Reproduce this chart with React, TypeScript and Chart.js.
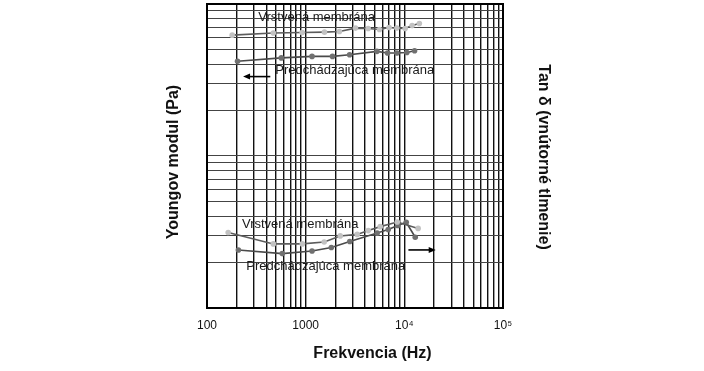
import React, { useEffect, useRef } from "react";
import { Chart, registerables } from "chart.js";

Chart.register(...registerables);

const FONT = "'Liberation Sans', Arial, Helvetica, sans-serif";

// Young's modulus (left axis, Pa)
const ymLayeredFreq = [180, 470, 920, 1550, 2200, 3200, 4300, 5600, 7000, 8400, 10200, 12000, 14200];
const ymLayeredVal = [6.24e7, 6.44e7, 6.49e7, 6.53e7, 6.59e7, 6.94e7, 6.9e7, 6.79e7, 7.0e7, 6.94e7, 6.9e7, 7.21e7, 7.44e7];
const ymPrevFreq = [204, 566, 1160, 1870, 2790, 5280, 6760, 8410, 10600, 12700];
const ymPrevVal = [4.2e7, 4.42e7, 4.52e7, 4.52e7, 4.64e7, 4.88e7, 4.76e7, 4.76e7, 4.8e7, 4.93e7];

// Tan delta (right axis)
const tdLayeredFreq = [164, 470, 924, 1540, 2240, 3330, 4310, 5700, 8480, 13800];
const tdLayeredVal = [0.0314, 0.0264, 0.0264, 0.0272, 0.0298, 0.0305, 0.0323, 0.0343, 0.0368, 0.0334];
const tdPrevFreq = [208, 579, 1160, 1820, 2800, 5310, 6870, 8570, 10450, 12900];
const tdPrevVal = [0.0241, 0.0228, 0.0237, 0.025, 0.0274, 0.0311, 0.0328, 0.0349, 0.0366, 0.0292];

// Axis ticks
const xGridValues = [
  100, 200, 300, 400, 500, 600, 700, 800, 900,
  1000, 2000, 3000, 4000, 5000, 6000, 7000, 8000, 9000,
  10000, 20000, 30000, 40000, 50000, 60000, 70000, 80000, 90000,
  100000,
];
const xLabelValues = [100, 1000, 10000, 100000];
const xLabelTexts = ["100", "1000", "10\u2074", "10\u2075"];
const yGridValues = [
  1e6, 2e6, 3e6, 4e6, 5e6, 6e6, 7e6, 8e6, 9e6,
  1e7, 2e7, 3e7, 4e7, 5e7, 6e7, 7e7, 8e7, 9e7, 1e8,
];

// Axis titles
const xTitle = "Frekvencia (Hz)";
const yTitle = "Youngov modul (Pa)";
const y2Title = "Tan δ (vnútorné tlmenie)";

// Annotations (text labels placed in data space)
const annoTexts = ["Vrstvená membrána", "Predchádzajúca membrána", "Vrstvená membrána", "Predchádzajúca membrána"];
const annoFreq = [331, 492, 226, 250];
const annoVal = [8.22e7, 3.65e7, 0.0354, 0.0189];
const annoAxis = ["y", "y", "y2", "y2"];

// Arrows: from -> to (head at "to")
const arrowFromFreq = [438, 11000];
const arrowToFreq = [232, 20800];
const arrowVal = [3.33e7, 0.0241];
const arrowAxis = ["y", "y2"];

const toPoints = (xs: number[], ys: number[]) => xs.map((x, i) => ({ x, y: ys[i] }));

const overlayPlugin = {
  id: "overlay",
  afterDraw(chart: any) {
    const { ctx, chartArea, scales } = chart;
    ctx.save();
    // annotations
    ctx.fillStyle = "#1a1a1a";
    ctx.font = `13px ${FONT}`;
    ctx.textBaseline = "middle";
    ctx.textAlign = "left";
    annoTexts.forEach((t, i) => {
      const px = scales.x.getPixelForValue(annoFreq[i]);
      const py = scales[annoAxis[i]].getPixelForValue(annoVal[i]);
      ctx.fillText(t, px, py);
    });
    // arrows
    ctx.strokeStyle = "#000";
    ctx.fillStyle = "#000";
    ctx.lineWidth = 1.6;
    arrowFromFreq.forEach((f, i) => {
      const x1 = scales.x.getPixelForValue(f);
      const x2 = scales.x.getPixelForValue(arrowToFreq[i]);
      const y = scales[arrowAxis[i]].getPixelForValue(arrowVal[i]);
      const dir = x2 > x1 ? 1 : -1;
      ctx.beginPath();
      ctx.moveTo(x1, y);
      ctx.lineTo(x2 - dir * 5, y);
      ctx.stroke();
      ctx.beginPath();
      ctx.moveTo(x2, y);
      ctx.lineTo(x2 - dir * 7, y - 3);
      ctx.lineTo(x2 - dir * 7, y + 3);
      ctx.closePath();
      ctx.fill();
    });
    // frame
    ctx.strokeStyle = "#000";
    ctx.lineWidth = 2;
    ctx.strokeRect(chartArea.left, chartArea.top, chartArea.right - chartArea.left, chartArea.bottom - chartArea.top);
    // axis titles
    ctx.fillStyle = "#111";
    ctx.font = `bold 16px ${FONT}`;
    ctx.textAlign = "center";
    ctx.textBaseline = "middle";
    ctx.fillText(xTitle, chartArea.left + 165.5, chartArea.bottom + 45.5);
    ctx.save();
    ctx.translate(chartArea.left - 33, chartArea.top + 158);
    ctx.rotate(-Math.PI / 2);
    ctx.fillText(yTitle, 0, 0);
    ctx.restore();
    ctx.save();
    ctx.translate(chartArea.right + 40, chartArea.top + 153);
    ctx.rotate(Math.PI / 2);
    ctx.fillText(y2Title, 0, 0);
    ctx.restore();
    ctx.restore();
  },
};

const lightPoint = "#c2c2c2";
const darkPoint = "#707070";

export default function App() {
  const ref = useRef<HTMLCanvasElement | null>(null);
  useEffect(() => {
    document.body.style.margin = "0";
    const canvas = ref.current;
    if (!canvas) return;
    const common = { borderWidth: 1.6, pointRadius: 2.8, pointBorderWidth: 0, tension: 0 };
    const chart = new Chart(canvas, {
      type: "line",
      data: {
        datasets: [
          {
            ...common,
            label: "Vrstvená membrána (E)",
            data: toPoints(ymLayeredFreq, ymLayeredVal),
            yAxisID: "y",
            borderColor: "#5c5c5c",
            pointBackgroundColor: lightPoint,
            pointBorderColor: lightPoint,
          },
          {
            ...common,
            label: "Predchádzajúca membrána (E)",
            data: toPoints(ymPrevFreq, ymPrevVal),
            yAxisID: "y",
            borderColor: "#4a4a4a",
            pointBackgroundColor: darkPoint,
            pointBorderColor: darkPoint,
          },
          {
            ...common,
            label: "Vrstvená membrána (tan δ)",
            data: toPoints(tdLayeredFreq, tdLayeredVal),
            yAxisID: "y2",
            borderColor: "#5c5c5c",
            pointBackgroundColor: lightPoint,
            pointBorderColor: lightPoint,
          },
          {
            ...common,
            label: "Predchádzajúca membrána (tan δ)",
            data: toPoints(tdPrevFreq, tdPrevVal),
            yAxisID: "y2",
            borderColor: "#4a4a4a",
            pointBackgroundColor: darkPoint,
            pointBorderColor: darkPoint,
          },
        ],
      },
      options: {
        responsive: false,
        animation: false,
        devicePixelRatio: 1,
        layout: { padding: { left: 164.6, right: 155.6, top: 3, bottom: 7.6 } },
        plugins: { legend: { display: false }, tooltip: { enabled: false } },
        scales: {
          x: {
            type: "logarithmic",
            min: 100,
            max: 100000,
            afterBuildTicks: (s: any) => {
              s.ticks = xGridValues.map((v) => ({ value: v }));
            },
            afterFit: (s: any) => {
              s.height = 55.4;
            },
            grid: { color: "#111", lineWidth: 1.4, drawTicks: false },
            border: { display: false },
            ticks: {
              autoSkip: false,
              maxRotation: 0,
              padding: 10,
              color: "#111",
              font: { family: FONT, size: 12 },
              callback: (v: any) => {
                const idx = xLabelValues.indexOf(Number(v));
                return idx >= 0 ? xLabelTexts[idx] : "";
              },
            },
            title: { display: false },
          },
          y: {
            type: "logarithmic",
            position: "left",
            min: 1e6,
            max: 1e8,
            afterBuildTicks: (s: any) => {
              s.ticks = yGridValues.map((v) => ({ value: v }));
            },
            afterFit: (s: any) => {
              s.width = 42.4;
            },
            grid: { color: "#444", lineWidth: 1.1, drawTicks: false },
            border: { display: false },
            ticks: { display: false },
            title: { display: false },
          },
          y2: {
            type: "logarithmic",
            position: "right",
            min: 0.01,
            max: 1,
            afterFit: (s: any) => {
              s.width = 45.4;
            },
            grid: { display: false, drawTicks: false },
            border: { display: false },
            ticks: { display: false },
            title: { display: false },
          },
        },
      },
      plugins: [overlayPlugin],
    } as any);
    return () => chart.destroy();
  }, []);
  return (
    <div style={{ width: 704, height: 371 }}>
      <canvas ref={ref} width={704} height={371} />
    </div>
  );
}
